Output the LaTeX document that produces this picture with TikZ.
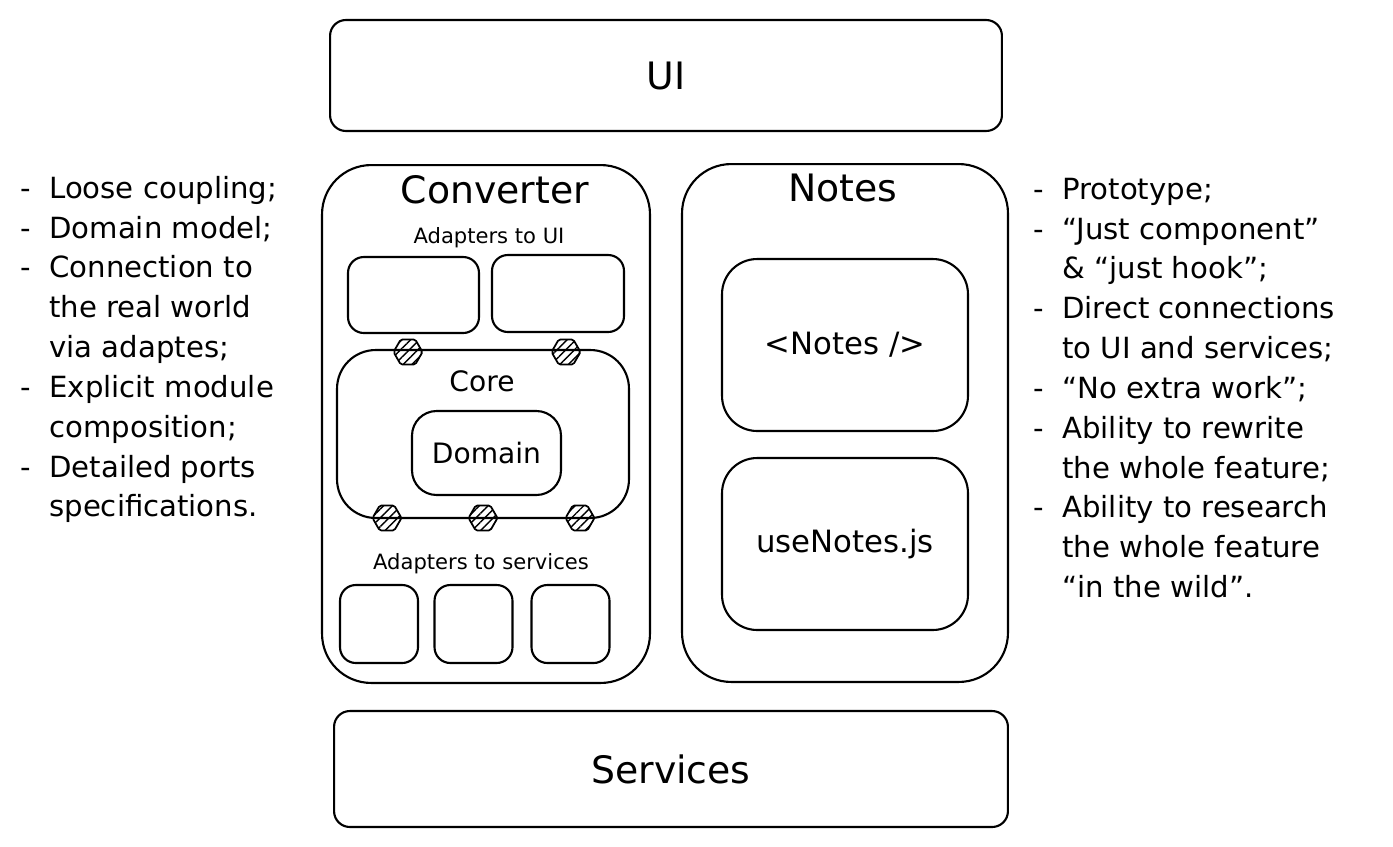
\documentclass[tikz,border=0pt]{standalone}
\usepackage{fontspec}
\setmainfont{DejaVu Sans}
\usetikzlibrary{positioning, shapes.geometric, patterns.meta}

% List helpers for the side notes
\newcommand\dashitem{\makebox[16.5pt][l]{-}}
\newcommand\contline{\hspace*{16.5pt}}

\begin{document}
\begin{tikzpicture}[x=0.02cm, y=-0.02cm,
  box/.style={draw, line width=1.2pt, rounded corners=#1, inner sep=0pt},
  box/.default=9pt,
  titletext/.style={font=\fontsize{21.5}{25}\selectfont},
  midtext/.style={font=\fontsize{16}{19}\selectfont},
  codetext/.style={font=\fontsize{17.5}{20}\selectfont},
  smalltext/.style={font=\fontsize{12}{14}\selectfont},
  notetext/.style={font=\fontsize{16.6}{22.68}\selectfont, align=left, anchor=west, inner sep=0pt},
  port/.style={regular polygon, regular polygon sides=6, draw, line width=1pt,
    minimum size=0.58cm, inner sep=0pt, rounded corners=1pt,
    pattern={Lines[angle=45,distance=3.5pt,line width=0.8pt]}}
]

\useasboundingbox (0,0) rectangle (1393,846);

% Layers above and below
\node[box, minimum width=13.44cm, minimum height=2.22cm, titletext] (ui) at (666,75.5) {UI};
\node[box, minimum width=13.48cm, minimum height=2.32cm, titletext] (services) at (671,769) {Services};

% Converter module
\node[box=28pt, minimum width=6.56cm, minimum height=10.36cm] (conv) at (486,424) {};
\node[titletext] (convtitle) at (495,190) {Converter};
\node[smalltext] (aduilabel) at (489,238) {Adapters to UI};
\node[box, minimum width=2.62cm, minimum height=1.52cm] (adui1) at (413.5,295) {};
\node[box, minimum width=2.64cm, minimum height=1.54cm] (adui2) at (558,293.5) {};

% Core with the domain inside
\node[box=22pt, minimum width=5.84cm, minimum height=3.36cm] (core) at (483,434) {};
\node[midtext] (coretitle) at (482,381) {Core};
\node[box=14pt, minimum width=2.98cm, minimum height=1.68cm, midtext] (domain) at (486.5,453) {Domain};

% Ports on the core border
\foreach \px/\py [count=\k] in {408/352, 566/352, 387/518, 483/518, 580/518}
  \node[port] (port\k) at (\px,\py) {};

% Adapters to services
\node[smalltext] (adsvclabel) at (481,564) {Adapters to services};
\foreach \sx [count=\k] in {379, 473.5, 570.5}
  \node[box, minimum size=1.56cm] (adsvc\k) at (\sx,624) {};

% Notes feature
\node[box=28pt, minimum width=6.52cm, minimum height=10.36cm] (notes) at (845,423) {};
\node[titletext] (notestitle) at (843,188) {Notes};
\node[box=20pt, minimum width=4.92cm, minimum height=3.44cm, codetext] (comp) at (845,345) {<Notes />};
\node[box=20pt, minimum width=4.92cm, minimum height=3.44cm, codetext] (hook) at (845,544) {useNotes.js};

% Side notes
\node[notetext] (convnotes) at (20,349.5) {%
  \dashitem Loose coupling;\\
  \dashitem Domain model;\\
  \dashitem Connection to\\
  \contline the real world\\
  \contline via adaptes;\\
  \dashitem Explicit module\\
  \contline composition;\\
  \dashitem Detailed ports\\
  \contline specifications.};

\node[notetext] (notesnotes) at (1033,388) {%
  \dashitem Prototype;\\
  \dashitem “Just component”\\
  \contline \& “just hook”;\\
  \dashitem Direct connections\\
  \contline to UI and services;\\
  \dashitem “No extra work”;\\
  \dashitem Ability to rewrite\\
  \contline the whole feature;\\
  \dashitem Ability to research\\
  \contline the whole feature\\
  \contline “in the wild”.};

\end{tikzpicture}
\end{document}
